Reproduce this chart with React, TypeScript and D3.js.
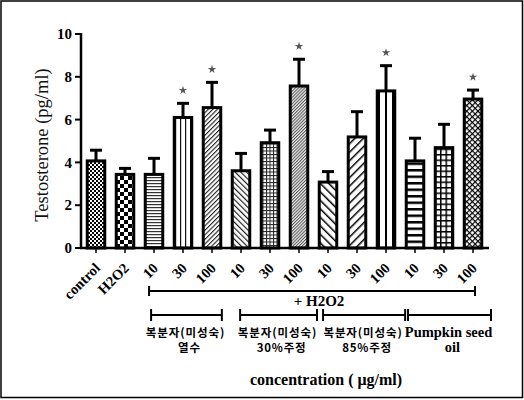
import React from "react";
import * as d3 from "d3";

const categories = ["control", "H2O2", "10", "30", "100", "10", "30", "100", "10", "30", "100", "10", "30", "100"];
const means = [4.07, 3.44, 3.44, 6.1, 6.56, 3.61, 4.92, 7.57, 3.08, 5.19, 7.34, 4.07, 4.69, 6.96];
const errors = [0.5, 0.28, 0.75, 0.66, 1.18, 0.81, 0.59, 1.25, 0.49, 1.18, 1.18, 1.06, 1.09, 0.42];
const significant = [false, false, false, true, true, false, false, true, false, false, true, false, false, true];
const patternIds = ["checkFine", "checkCoarse", "hFine", "vFine", "diagFineR", "diagL", "gridFine", "diagDense", "diagLWide", "diagRWide", "vWide", "hThick", "grid", "cross"];
const yTicks = [0, 2, 4, 6, 8, 10];

const groupLine1 = ["복분자(미성숙)", "복분자(미성숙)", "복분자(미성숙)", "Pumpkin seed"];
const groupLine2 = ["열수", "30%주정", "85%주정", "oil"];
const groupFrom = [1.9, 4.97, 7.83, 10.76];
const groupTo = [4.34, 7.62, 10.66, 13.62];
const h2o2From = 1.83;
const h2o2To = 13.07;

const W = 524;
const H = 400;
const serif = "'Liberation Serif', 'Times New Roman', serif";
const kr = "'Noto Sans CJK KR', sans-serif";

export default function App() {
  const x = d3.scaleBand<number>().domain(d3.range(categories.length)).range([81.5, 487.5]).paddingInner(0);
  const bw = x.bandwidth();
  const cx = (i: number) => (x(i) as number) + bw / 2;
  const pos = d3.scaleLinear().domain([0, 1]).range([cx(0), cx(1)]);
  const y = d3.scaleLinear().domain([0, 10]).range([248, 34]);
  const barW = 17.5;
  const y0 = y(0);
  const starPath = d3.symbol(d3.symbolStar, 22)() as string;

  const patternDefs = (
    <defs>
      <pattern id="checkFine" patternUnits="userSpaceOnUse" width={4} height={4}>
        <rect width={4} height={4} fill="#fff" />
        <rect x={0} y={0} width={2} height={2} fill="#000" />
        <rect x={2} y={2} width={2} height={2} fill="#000" />
      </pattern>
      <pattern id="checkCoarse" patternUnits="userSpaceOnUse" width={8} height={8}>
        <rect width={8} height={8} fill="#fff" />
        <rect x={0} y={0} width={4} height={4} fill="#000" />
        <rect x={4} y={4} width={4} height={4} fill="#000" />
      </pattern>
      <pattern id="hFine" patternUnits="userSpaceOnUse" width={4} height={3}>
        <rect width={4} height={3} fill="#fff" />
        <rect x={0} y={0} width={4} height={1.2} fill="#333" />
      </pattern>
      <pattern id="vFine" patternUnits="userSpaceOnUse" width={5} height={4}>
        <rect width={5} height={4} fill="#fff" />
        <rect x={0} y={0} width={1.2} height={4} fill="#111" />
      </pattern>
      <pattern id="diagFineR" patternUnits="userSpaceOnUse" width={3.2} height={4} patternTransform="rotate(45)">
        <rect width={3.2} height={4} fill="#fff" />
        <rect x={0} y={0} width={1.1} height={4} fill="#222" />
      </pattern>
      <pattern id="diagL" patternUnits="userSpaceOnUse" width={4} height={4} patternTransform="rotate(-45)">
        <rect width={4} height={4} fill="#fff" />
        <rect x={0} y={0} width={1.2} height={4} fill="#222" />
      </pattern>
      <pattern id="gridFine" patternUnits="userSpaceOnUse" width={3.5} height={3.5}>
        <rect width={3.5} height={3.5} fill="#fff" />
        <rect x={0} y={0} width={1} height={3.5} fill="#222" />
        <rect x={0} y={0} width={3.5} height={1} fill="#222" />
      </pattern>
      <pattern id="diagDense" patternUnits="userSpaceOnUse" width={2.2} height={4} patternTransform="rotate(45)">
        <rect width={2.2} height={4} fill="#eee" />
        <rect x={0} y={0} width={1} height={4} fill="#555" />
      </pattern>
      <pattern id="diagLWide" patternUnits="userSpaceOnUse" width={6} height={6} patternTransform="rotate(-45)">
        <rect width={6} height={6} fill="#fff" />
        <rect x={0} y={0} width={1.5} height={6} fill="#000" />
      </pattern>
      <pattern id="diagRWide" patternUnits="userSpaceOnUse" width={6} height={6} patternTransform="rotate(45)">
        <rect width={6} height={6} fill="#fff" />
        <rect x={0} y={0} width={1.5} height={6} fill="#000" />
      </pattern>
      <pattern id="vWide" patternUnits="userSpaceOnUse" width={7} height={6}>
        <rect width={7} height={6} fill="#fff" />
        <rect x={0} y={0} width={2} height={6} fill="#000" />
      </pattern>
      <pattern id="hThick" patternUnits="userSpaceOnUse" width={6} height={6.5}>
        <rect width={6} height={6.5} fill="#fff" />
        <rect x={0} y={0} width={6} height={2.5} fill="#000" />
      </pattern>
      <pattern id="grid" patternUnits="userSpaceOnUse" width={5.5} height={5.5}>
        <rect width={5.5} height={5.5} fill="#fff" />
        <rect x={0} y={0} width={1.5} height={5.5} fill="#000" />
        <rect x={0} y={0} width={5.5} height={1.5} fill="#000" />
      </pattern>
      <pattern id="cross" patternUnits="userSpaceOnUse" width={4} height={4} patternTransform="rotate(45)">
        <rect width={4} height={4} fill="#fff" />
        <rect x={0} y={0} width={1.2} height={4} fill="#000" />
        <rect x={0} y={0} width={4} height={1.2} fill="#000" />
      </pattern>
    </defs>
  );

  const bracketY1 = 291;
  const bracketY2 = 315;

  return (
    <div style={{ position: "fixed", left: 0, top: 0, width: W, height: H, background: "#fff" }}>
      <svg width={W} height={H} viewBox={`0 0 ${W} ${H}`} style={{ display: "block" }}>
        {patternDefs}
        <rect x={1} y={1} width={W - 2.5} height={H - 3.5} fill="#fff" stroke="#000" strokeWidth={1.5} />

        {/* y axis */}
        <line x1={81} x2={81} y1={y(10) - 1} y2={y0 + 1} stroke="#000" strokeWidth={2.5} />
        {yTicks.map((t) => (
          <g key={`yt${t}`}>
            <line x1={75} x2={81} y1={y(t)} y2={y(t)} stroke="#000" strokeWidth={2} />
            <text x={72} y={y(t)} dy="0.35em" textAnchor="end" fontFamily={serif} fontWeight="bold" fontSize={15} fill="#000">
              {t}
            </text>
          </g>
        ))}
        <text
          transform={`translate(48,${(y(10) + y0) / 2 + 4}) rotate(-90)`}
          textAnchor="middle"
          fontFamily={serif}
          fontSize={18.5}
          fill="#111"
        >
          Testosterone (pg/ml)
        </text>

        {/* bars */}
        {means.map((m, i) => {
          const c = cx(i);
          const top = y(m);
          const et = y(m + errors[i]);
          return (
            <g key={`b${i}`}>
              <line x1={c} x2={c} y1={top} y2={et} stroke="#000" strokeWidth={3} />
              <line x1={c - 6} x2={c + 6} y1={et} y2={et} stroke="#000" strokeWidth={3} />
              <rect
                x={c - barW / 2}
                y={top}
                width={barW}
                height={y0 - top}
                fill={`url(#${patternIds[i]})`}
                stroke="#000"
                strokeWidth={3}
              />
              {significant[i] && (
                <path d={starPath} transform={`translate(${c},${et - 13})`} fill="#555" />
              )}
            </g>
          );
        })}

        {/* x axis */}
        <line x1={80} x2={489} y1={y0} y2={y0} stroke="#000" strokeWidth={2.5} />
        {categories.map((c, i) => (
          <g key={`xt${i}`}>
            <line x1={cx(i)} x2={cx(i)} y1={y0} y2={y0 + 5} stroke="#000" strokeWidth={1.5} />
            <text
              transform={`translate(${cx(i) + 5},${y0 + 21}) rotate(-45)`}
              textAnchor="end"
              fontFamily={serif}
              fontWeight="bold"
              fontSize={14.5}
              fill="#000"
            >
              {c}
            </text>
          </g>
        ))}

        {/* + H2O2 bracket */}
        <g stroke="#000" strokeWidth={2}>
          <line x1={pos(h2o2From)} x2={pos(h2o2To)} y1={bracketY1} y2={bracketY1} />
          <line x1={pos(h2o2From)} x2={pos(h2o2From)} y1={bracketY1 - 5} y2={bracketY1 + 5} />
          <line x1={pos(h2o2To)} x2={pos(h2o2To)} y1={bracketY1 - 5} y2={bracketY1 + 5} />
        </g>
        <text x={319} y={306} textAnchor="middle" fontFamily={serif} fontWeight="bold" fontSize={15} fill="#000">
          + H2O2
        </text>

        {/* group brackets */}
        {groupFrom.map((f, g) => {
          const a = pos(f);
          const b = pos(groupTo[g]);
          const mid = (a + b) / 2;
          const isLatin = /^[A-Za-z ]+$/.test(groupLine1[g]);
          return (
            <g key={`g${g}`}>
              <g stroke="#000" strokeWidth={2}>
                <line x1={a} x2={b} y1={bracketY2} y2={bracketY2} />
                <line x1={a} x2={a} y1={bracketY2 - 6} y2={bracketY2 + 6} />
                <line x1={b} x2={b} y1={bracketY2 - 6} y2={bracketY2 + 6} />
              </g>
              <text
                x={mid - 1}
                y={337}
                textAnchor="middle"
                fontFamily={isLatin ? serif : kr}
                fontWeight="bold"
                fontSize={isLatin ? 14.5 : 11.5}
                letterSpacing={isLatin ? 0 : 0.9}
                fill="#000"
              >
                {groupLine1[g]}
              </text>
              <text
                x={mid + 3}
                y={352}
                textAnchor="middle"
                fontFamily={isLatin ? serif : kr}
                fontWeight="bold"
                fontSize={isLatin ? 14.5 : 11.5}
                letterSpacing={isLatin ? 0 : 0.8}
                fill="#000"
              >
                {groupLine2[g]}
              </text>
            </g>
          );
        })}

        <text x={326} y={385} textAnchor="middle" fontFamily={serif} fontWeight="bold" fontSize={16} fill="#000">
          concentration ( μg/ml)
        </text>
      </svg>
    </div>
  );
}
